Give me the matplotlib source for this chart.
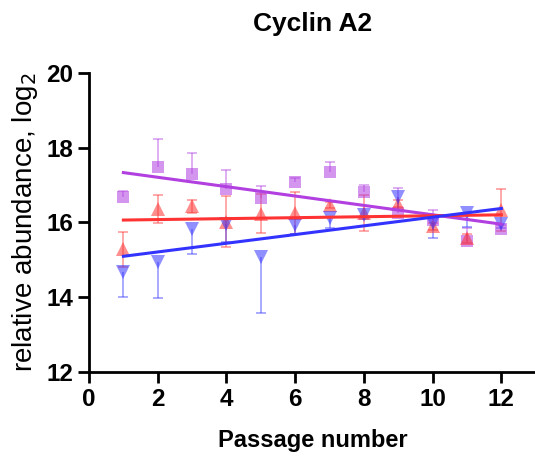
import numpy as np
import matplotlib.pyplot as plt

plt.rcParams['font.family'] = ['Liberation Sans', 'DejaVu Sans']

passage = np.arange(1, 13)

# purple squares (upper error bars only)
purple_mean = [16.67, 17.47, 17.28, 16.88, 16.66, 17.07, 17.34, 16.82, 16.25, 16.05, 15.50, 15.83]
purple_err = [0.16, 0.75, 0.57, 0.53, 0.31, 0.12, 0.27, 0.17, 0.67, 0.27, 0.34, 0.10]

# red up-triangles (both sides)
red_mean = [15.28, 16.35, 16.43, 16.02, 16.23, 16.25, 16.45, 16.24, 16.50, 15.89, 15.57, 16.32]
red_err = [0.47, 0.37, 0.17, 0.68, 0.52, 0.57, 0.08, 0.48, 0.10, 0.10, 0.12, 0.56]

# blue down-triangles (lower error bars only)
blue_mean = [14.67, 14.94, 15.83, 15.95, 15.08, 15.92, 16.12, 16.20, 16.69, 15.97, 16.25, 15.96]
blue_err = [0.66, 0.96, 0.68, 0.47, 1.51, 0.22, 0.28, 0.10, 0.36, 0.40, 0.38, 0.10]

# linear fit lines, value at passage 1 and passage 12
fit_x = [1, 12]
purple_fit = [17.33, 15.95]
red_fit = [16.06, 16.20]
blue_fit = [15.09, 16.37]

purple = '#b23fe0'
red = '#ff3333'
blue = '#3333ff'

fig = plt.figure(figsize=(5.35, 4.59), dpi=100)
ax = fig.add_axes([0.1664, 0.19, 0.835, 0.6514])

def series(mean, err, fit, color, marker, msize, up=True, down=True):
    mean = np.array(mean)
    err = np.array(err)
    lo = mean - err if down else mean
    hi = mean + err if up else mean
    ax.vlines(passage, lo, hi, color=color, alpha=0.45, linewidth=1.3, zorder=2)
    if up:
        ax.plot(passage, hi, linestyle='none', marker='_', markersize=7,
                markeredgewidth=1.3, color=color, alpha=0.45, zorder=2)
    if down:
        ax.plot(passage, lo, linestyle='none', marker='_', markersize=7,
                markeredgewidth=1.3, color=color, alpha=0.45, zorder=2)
    ax.plot(passage, mean, linestyle='none', marker=marker, markersize=msize,
            color=color, alpha=0.55, markeredgewidth=0, zorder=3)
    ax.plot(fit_x, fit, color=color, linewidth=2.2, zorder=4)

series(purple_mean, purple_err, purple_fit, purple, 's', 8, up=True, down=False)
series(red_mean, red_err, red_fit, red, '^', 9.5)
series(blue_mean, blue_err, blue_fit, blue, 'v', 9.5, up=False, down=True)

ax.set_xlim(0, 13)
ax.set_ylim(12, 20)
ax.set_xticks(range(0, 13, 2))
ax.set_yticks(range(12, 21, 2))
for s in ['top', 'right']:
    ax.spines[s].set_visible(False)
for s in ['left', 'bottom']:
    ax.spines[s].set_linewidth(2)
ax.tick_params(width=2, length=8, labelsize=17.5)
for lab in ax.get_xticklabels() + ax.get_yticklabels():
    lab.set_fontweight('bold')

ax.set_xlabel('Passage number', fontsize=17, fontweight='bold', labelpad=13)
ax.set_ylabel('relative abundance, log$_2$', fontsize=20, labelpad=4)
ax.set_title('Cyclin A2', fontsize=19, fontweight='bold', pad=30)

fig.savefig('out.png', dpi=100)
